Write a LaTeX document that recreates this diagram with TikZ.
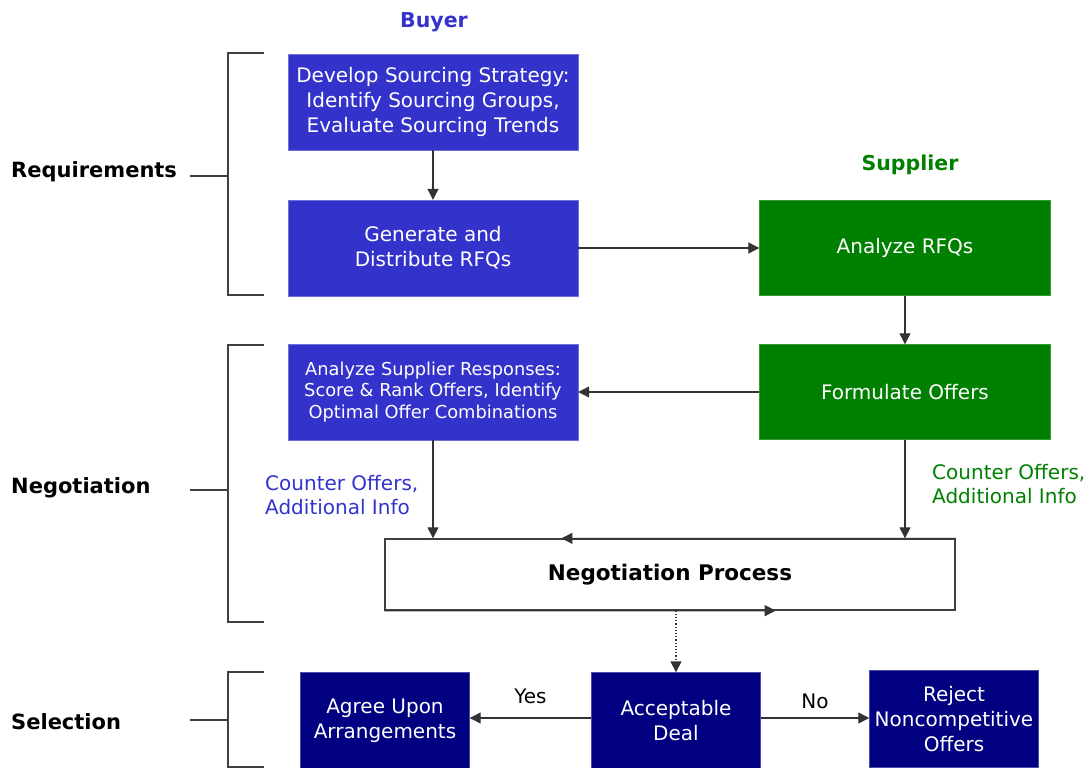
\documentclass[tikz,border=0pt]{standalone}
\usepackage{fontspec}
\setmainfont{DejaVu Sans}
\usetikzlibrary{arrows.meta,calc,positioning}
\definecolor{buyblue}{HTML}{3333CC}
\definecolor{supgreen}{HTML}{008000}
\definecolor{navy}{HTML}{000080}
\begin{document}
\begin{tikzpicture}[x=1pt,y=-1pt,
  boxtxt/.style={text=white,font=\fontsize{20}{25}\selectfont,align=center,inner sep=0pt},
  buybox/.style={boxtxt,fill=buyblue,draw=buyblue!70!white,minimum width=290pt,minimum height=96pt},
  supbox/.style={boxtxt,fill=supgreen,draw=supgreen!80!white,minimum width=291pt,minimum height=95pt},
  selbox/.style={boxtxt,fill=navy,draw=navy!70!white,minimum width=169pt,minimum height=97pt},
  arr/.style={draw=black!80,line width=1.2pt,-{Triangle[length=11pt,width=11pt]}},
  brk/.style={draw=black!75,line width=1.4pt},
  lbl/.style={font=\fontsize{21}{24}\selectfont\bfseries,anchor=west,inner sep=0pt},
  hdr/.style={font=\fontsize{20.5}{24}\selectfont\bfseries,inner sep=0pt},
  note/.style={font=\fontsize{20}{24}\selectfont,align=left,anchor=west,inner sep=0pt}
]
\useasboundingbox (0,0) rectangle (1090,768);

% headers
\node[hdr,text=buyblue] (buyer) at (434,22) {Buyer};
\node[hdr,text=supgreen] (supplier) at (910,165) {Supplier};

% buyer boxes
\node[buybox] (dss) at (433,102) {Develop Sourcing Strategy:\\Identify Sourcing Groups,\\Evaluate Sourcing Trends};
\node[buybox] (gen) at (433,248) {Generate and\\Distribute RFQs};
\node[buybox,font=\fontsize{17.8}{21.5}\selectfont] (asr) at (433,392) {Analyze Supplier Responses:\\Score \& Rank Offers, Identify\\Optimal Offer Combinations};

% supplier boxes
\node[supbox] (arfq) at (905,248) {Analyze RFQs};
\node[supbox] (fo) at (905,392) {Formulate Offers};

% negotiation process
\node[draw=black!75,line width=1.3pt,fill=white,minimum width=570pt,minimum height=71pt,inner sep=0pt,
      font=\fontsize{21.5}{24}\selectfont\bfseries] (np) at (670,574.5) {Negotiation Process};

% selection boxes
\node[selbox] (ad) at (676,721) {Acceptable\\Deal};
\node[selbox] (agree) at (385,721) {Agree Upon\\Arrangements};
\node[selbox] (rej) at (954,719) {Reject\\Noncompetitive\\Offers};

% notes
\node[note,text=buyblue] (cob) at (265,495) {Counter Offers,\\Additional Info};
\node[note,text=supgreen] (cos) at (932,484) {Counter Offers,\\Additional Info};

% connectors
\draw[arr] (dss) -- (gen);
\draw[arr] (gen) -- (arfq);
\draw[arr] (arfq) -- (fo);
\draw[arr] (fo) -- (asr);
\draw[arr] (asr.south) -- (asr.south |- np.north);
\draw[arr] (fo.south) -- (fo.south |- np.north);
\draw[arr] (np.north east) -- ($(np.north west)!0.31!(np.north east)$);
\draw[arr] (np.south west) -- ($(np.south west)!0.685!(np.south east)$);
\draw[arr,dotted,line width=1.5pt] (ad.north |- np.south) -- (ad.north);
\draw[arr] (ad.west) ++(0,-3) coordinate (adw) (adw) -- node[above=10pt,font=\fontsize{20}{24}\selectfont,text=black] (yes) {Yes} (adw -| agree.east);
\draw[arr] (ad.east) ++(0,-3) coordinate (ade) (ade) -- node[above=5pt,font=\fontsize{20}{24}\selectfont,text=black] (no) {No} (ade -| rej.west);

% section labels and brackets
\node[lbl] (req) at (11,172) {Requirements};
\node[lbl] (neg) at (11,488) {Negotiation};
\node[lbl] (sel) at (11,722) {Selection};
\draw[brk] (264,53) -- (228,53) -- (228,295) -- (264,295);
\draw[brk] (190,176) -- (228,176);
\draw[brk] (264,345) -- (228,345) -- (228,622) -- (264,622);
\draw[brk] (190,490) -- (228,490);
\draw[brk] (264,672) -- (228,672) -- (228,767) -- (264,767);
\draw[brk] (190,720) -- (228,720);
\end{tikzpicture}
\end{document}
